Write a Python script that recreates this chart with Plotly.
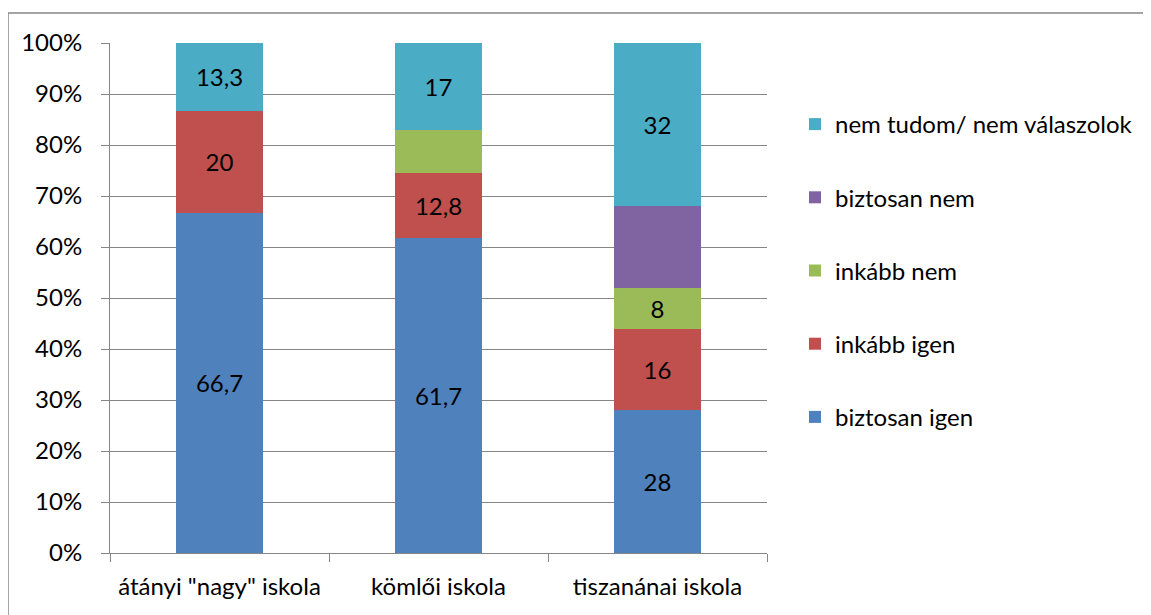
import plotly.graph_objects as go

categories = ['átányi "nagy" iskola', 'kömlői iskola', 'tiszanánai iskola']
biztosan_igen = [66.7, 61.7, 28]
inkabb_igen = [20, 12.8, 16]
inkabb_nem = [0, 8.5, 8]
biztosan_nem = [0, 0, 16]
nem_tudom = [13.3, 17, 32]
# labels that are not printed in the original chart
hidden_labels = {("inkább nem", 1), ("biztosan nem", 2)}

series = [
    ("biztosan igen", biztosan_igen, "#4F81BD"),
    ("inkább igen", inkabb_igen, "#C0504D"),
    ("inkább nem", inkabb_nem, "#9BBB59"),
    ("biztosan nem", biztosan_nem, "#8064A2"),
    ("nem tudom/ nem válaszolok", nem_tudom, "#4BACC6"),
]

def fmt(v):
    if float(v).is_integer():
        return str(int(v))
    return str(v).replace(".", ",")

OFF = 8  # browser body margin
W, H = 1151 - OFF, 615 - OFF
L, R, T, B = 110 - OFF, 767 - OFF, 43 - OFF, 553 - OFF
FONT = "Lato"
FS = 24

fig = go.Figure()
n = len(series)
for k, (name, vals, col) in enumerate(series):
    texts = []
    for i, v in enumerate(vals):
        if v == 0 or (name, i) in hidden_labels:
            texts.append("")
        else:
            texts.append(fmt(v))
    fig.add_trace(go.Bar(
        x=categories, y=vals, name=name, legendgroup=name,
        legendrank=n - k,
        marker=dict(color=col, line=dict(width=0)),
        text=texts, textposition="inside", insidetextanchor="middle",
        textfont=dict(color="black", size=FS, family=FONT),
        textangle=0, cliponaxis=False,
    ))

pw, ph = R - L, B - T
fig.update_layout(
    barmode="stack",
    bargap=0.6,
    width=W, height=H,
    margin=dict(l=L, r=W - R, t=T, b=H - B, pad=0),
    plot_bgcolor="white", paper_bgcolor="white",
    font=dict(family=FONT, size=FS, color="black"),
    uniformtext=dict(mode=False),
    legend=dict(
        x=(795 - OFF - L) / pw, y=(B - (102 - OFF)) / ph, xanchor="left", yanchor="top",
        traceorder="grouped", tracegroupgap=39,
        font=dict(family=FONT, size=FS, color="black"),
        itemwidth=30, bgcolor="rgba(0,0,0,0)",
    ),
    xaxis=dict(
        showgrid=False, showline=True, linecolor="#868686", linewidth=1,
        ticks="outside", tickson="boundaries", ticklen=8, tickcolor="#868686",
        tickfont=dict(size=FS, family=FONT), ticklabelstandoff=12,
    ),
    yaxis=dict(
        range=[0, 100], dtick=10, ticksuffix="%",
        showgrid=True, gridcolor="#868686", gridwidth=1,
        showline=True, linecolor="#868686", linewidth=1,
        ticks="outside", ticklen=8, tickcolor="#868686",
        tickfont=dict(size=FS, family=FONT), zeroline=False,
        ticklabelstandoff=14,
    ),
    shapes=[dict(
        type="rect", xref="paper", yref="paper",
        x0=(8 - OFF - L) / pw, x1=(W + 20 - L) / pw,
        y0=(B - (H + 20)) / ph, y1=(B - (13 - OFF)) / ph,
        line=dict(color="#868686", width=1.5), fillcolor="rgba(0,0,0,0)",
        layer="below",
    )],
)

fig.write_html("out.html")
